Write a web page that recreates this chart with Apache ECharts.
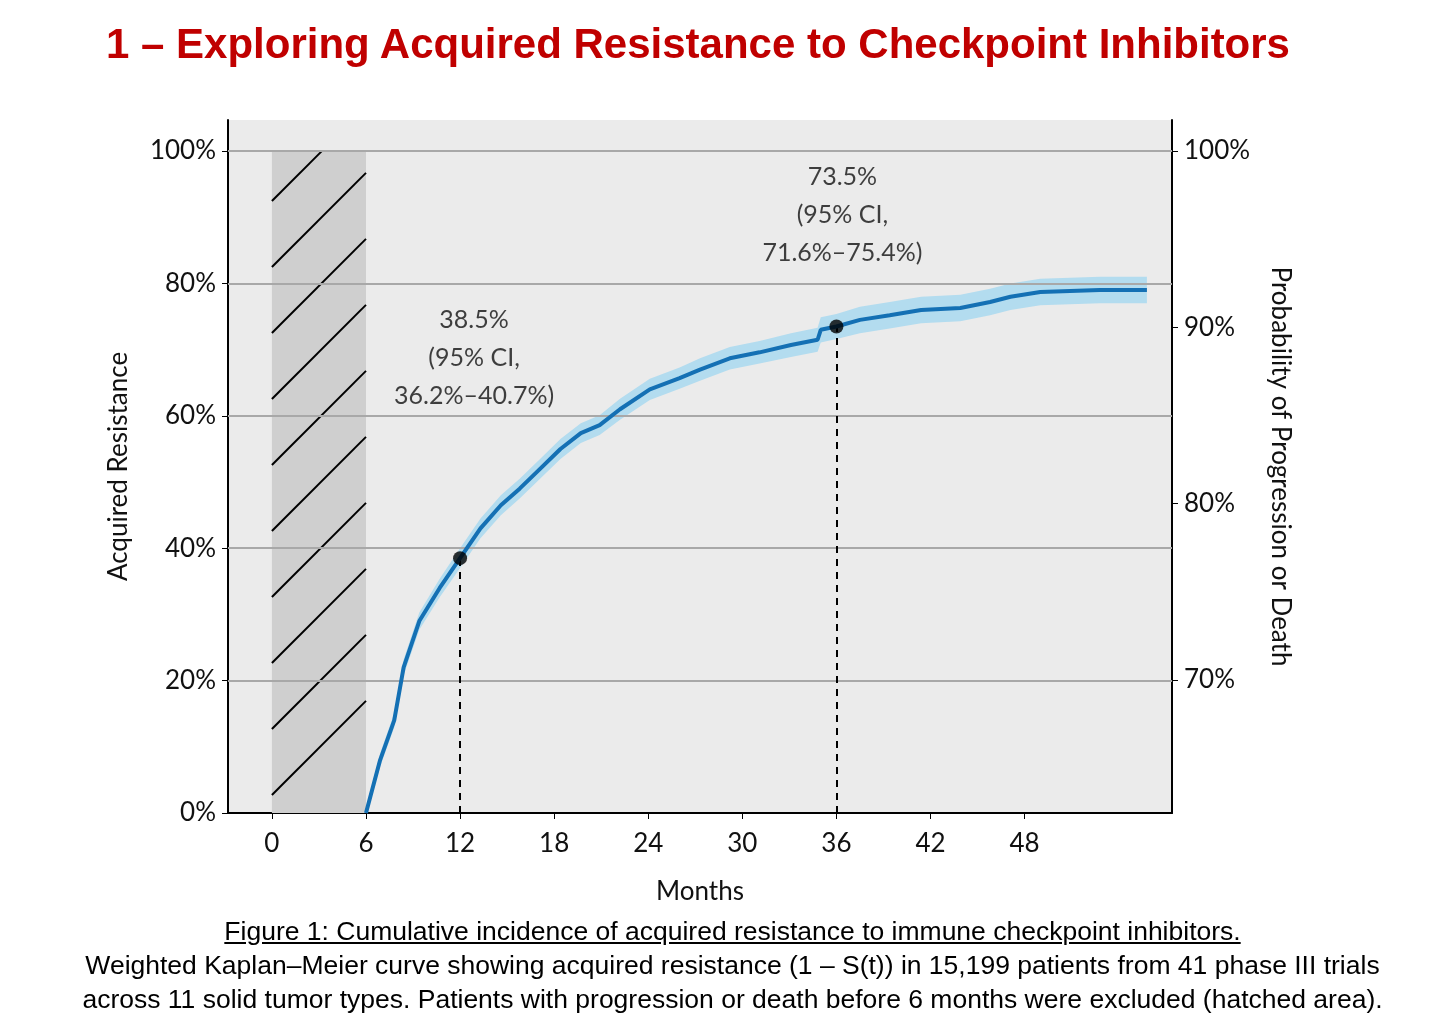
<!DOCTYPE html>
<html><head><meta charset="utf-8">
<script src="https://cdn.jsdelivr.net/npm/echarts@6/dist/echarts.min.js"></script>
<style>
body{margin:0;background:#fff;font-family:"Liberation Sans",Arial,sans-serif}
#title{position:absolute;left:0;width:1396px;text-align:center;top:20px;color:#c00000;font-weight:bold;font-size:42px}
#chart{position:absolute;left:0;top:0;width:1456px;height:1029px}
#cap{position:absolute;left:0;width:1465px;top:914px;text-align:center;font-size:26.5px;line-height:34px;color:#000}
</style></head><body>
<div id="chart"></div>
<div id="title">1 – Exploring Acquired Resistance to Checkpoint Inhibitors</div>
<div id="cap"><u>Figure 1: Cumulative incidence of acquired resistance to immune checkpoint inhibitors.</u><br>Weighted Kaplan–Meier curve showing acquired resistance (1 – S(t)) in 15,199 patients from 41 phase III trials<br>across 11 solid tumor types. Patients with progression or death before 6 months were excluded (hatched area).</div>
<script>
var months = [6, 6.9, 7.8, 8.4, 9.4, 10.7, 12, 13.3, 14.6, 15.8, 17.1, 18.4, 19.7, 20.9, 22.2, 24.1, 26, 27.3, 29.2, 31.1, 33.1, 34.8, 35, 36, 37.5, 39.4, 41.4, 43.9, 45.8, 47.1, 49, 52.8, 55.8];
var resistance = [0, 8, 14, 22, 29, 34, 38.5, 43, 46.5, 49, 52, 55, 57.4, 58.6, 61, 64, 65.7, 67, 68.7, 69.6, 70.7, 71.5, 73, 73.5, 74.5, 75.2, 76, 76.3, 77.2, 78, 78.7, 79, 79];
var ciHalf = [0.8, 1, 1.1, 1.2, 1.3, 1.4, 1.5, 1.5, 1.5, 1.5, 1.5, 1.5, 1.5, 1.5, 1.6, 1.6, 1.6, 1.7, 1.7, 1.7, 1.8, 1.8, 1.9, 1.9, 2, 2, 2, 2, 2, 2, 2, 2, 2];
var xTicks = [0, 6, 12, 18, 24, 30, 36, 42, 48];
var yTicks = [0, 20, 40, 60, 80, 100];
var rightTicks = [70, 80, 90, 100];
var highlights = [[12, 38.5], [36, 73.5]];
var highlightLabels = ['38.5%\n(95% CI,\n36.2%–40.7%)', '73.5%\n(95% CI,\n71.6%–75.4%)'];
var excluded = [0, 6];

var lineData = months.map(function (m, i) { return [m, resistance[i]]; });

var font = '"Lato","Noto Sans",sans-serif';
var chart = echarts.init(document.getElementById('chart'));
chart.setOption({
  animation: false,
  grid: {left: 228, top: 120, width: 944, height: 693, show: true, backgroundColor: '#ebebeb', borderWidth: 0},
  xAxis: {
    type: 'value', min: -2.8, max: 57.4,
    name: 'Months', nameLocation: 'middle', nameGap: 66, nameTextStyle: {fontSize: 26, color: '#111', fontFamily: font},
    axisLine: {show: true, onZero: false, lineStyle: {color: '#000', width: 2}},
    axisTick: {show: true, customValues: xTicks, length: 6, lineStyle: {color: '#000'}},
    axisLabel: {customValues: xTicks, fontSize: 26, color: '#111', fontFamily: font, margin: 18},
    splitLine: {show: false}
  },
  yAxis: [{
    type: 'value', min: 0, max: 104.7,
    name: 'Acquired Resistance', nameLocation: 'middle', nameGap: 96, nameTextStyle: {fontSize: 26, color: '#111', fontFamily: font},
    axisLine: {show: true, onZero: false, lineStyle: {color: '#000', width: 2}},
    axisTick: {show: true, customValues: yTicks, length: 6, lineStyle: {color: '#000'}},
    axisLabel: {customValues: yTicks, formatter: '{value}%', fontSize: 26, color: '#111', fontFamily: font, margin: 12},
    splitLine: {show: false}
  }, {
    type: 'value', min: 62.45, max: 101.76, position: 'right',
    name: 'Probability of Progression or Death', nameLocation: 'middle', nameRotate: -90, nameGap: 95,
    nameTextStyle: {fontSize: 26, color: '#111', fontFamily: font},
    axisLine: {show: true, onZero: false, lineStyle: {color: '#000', width: 2}},
    axisTick: {show: true, customValues: rightTicks, length: 6, lineStyle: {color: '#000'}},
    axisLabel: {customValues: rightTicks, formatter: '{value}%', fontSize: 26, color: '#111', fontFamily: font, margin: 12},
    splitLine: {show: false}
  }],
  series: [{
    type: 'line', data: [], markLine: {
      silent: true, symbol: 'none', label: {show: false},
      lineStyle: {color: '#a8a8a8', width: 2, type: 'solid'},
      data: yTicks.slice(1).map(function (v) { return {yAxis: v}; })
    }
  }, {
    type: 'custom', silent: true, z: 3,
    data: [[excluded[0], excluded[1]]],
    renderItem: function (params, api) {
      var p0 = api.coord([excluded[0], 100]), p1 = api.coord([excluded[1], 0]);
      var x0 = p0[0], y0 = p0[1], x1 = p1[0], y1 = p1[1];
      var kids = [{type: 'rect', shape: {x: x0, y: y0, width: x1 - x0, height: y1 - y0}, style: {fill: '#cfcfcf'}}];
      var step = 66;
      for (var c = y1 - 18; c > y0 - (x1 - x0); c -= step) {
        // line: y = c - (x - x0)
        var xa = Math.max(x0, x0 + c - y1), xb = Math.min(x1, x0 + c - y0);
        if (xa < xb)
          kids.push({type: 'line', shape: {x1: xa, y1: c - (xa - x0), x2: xb, y2: c - (xb - x0)}, style: {stroke: '#000', lineWidth: 2}});
      }
      return {type: 'group', children: kids};
    }
  }, {
    type: 'custom', silent: true, z: 4,
    data: [[0, 0]],
    renderItem: function (params, api) {
      var up = [], lo = [];
      for (var i = 0; i < months.length; i++) {
        up.push(api.coord([months[i], resistance[i] + ciHalf[i]]));
        lo.unshift(api.coord([months[i], Math.max(0, resistance[i] - ciHalf[i])]));
      }
      return {type: 'polygon', shape: {points: up.concat(lo)}, style: {fill: '#b3dcef'}};
    }
  }, {
    type: 'line', data: lineData, symbol: 'none', z: 5,
    lineStyle: {color: '#1470b4', width: 4}
  }, {
    type: 'line', data: [], z: 5,
    markLine: {
      silent: true, symbol: 'none', label: {show: false},
      lineStyle: {color: '#000', width: 2, type: [7, 6]},
      data: highlights.map(function (h) { return [{coord: [h[0], 0]}, {coord: [h[0], h[1]]}]; })
    }
  }, {
    type: 'scatter', z: 6, symbolSize: 14,
    itemStyle: {color: '#000'},
    data: highlights.map(function (h, i) {
      return {value: h, label: {distance: i === 0 ? 136 : 48, offset: [i === 0 ? 14 : 6, 0]}};
    }),
    label: {
      show: true, position: 'top', fontSize: 25, lineHeight: 38, color: '#111', fontFamily: font,
      formatter: function (p) { return highlightLabels[p.dataIndex]; }
    }
  }]
});
</script>
</body></html>
